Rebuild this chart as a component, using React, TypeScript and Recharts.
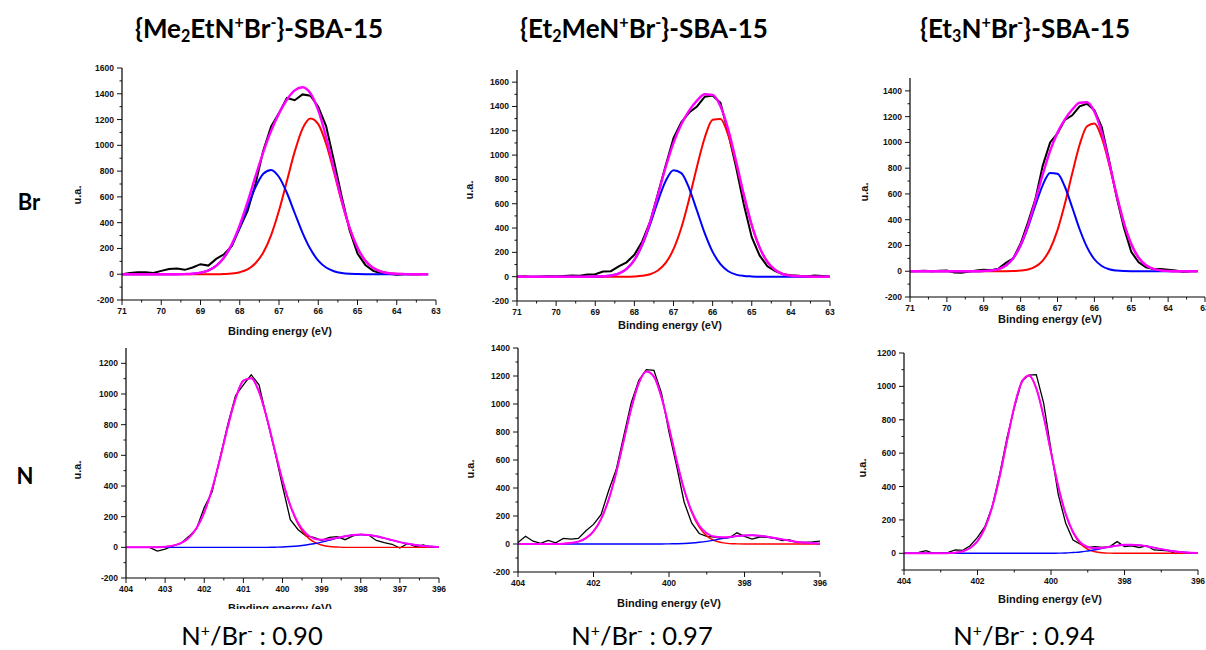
import React from "react";
import { LineChart, Line, XAxis, YAxis } from "recharts";

// binding energy grids (eV), high -> low like the original plots
const BE_BR = [71.0, 70.8, 70.6, 70.4, 70.2, 70.0, 69.8, 69.6, 69.4, 69.2, 69.0, 68.8, 68.6, 68.4, 68.2, 68.0, 67.8, 67.6, 67.4, 67.2, 67.0, 66.8, 66.6, 66.4, 66.2, 66.0, 65.8, 65.6, 65.4, 65.2, 65.0, 64.8, 64.6, 64.4, 64.2, 64.0, 63.8, 63.6, 63.4, 63.2, 63.0];
const BE_N = [404.0, 403.8, 403.6, 403.4, 403.2, 403.0, 402.8, 402.6, 402.4, 402.2, 402.0, 401.8, 401.6, 401.4, 401.2, 401.0, 400.8, 400.6, 400.4, 400.2, 400.0, 399.8, 399.6, 399.4, 399.2, 399.0, 398.8, 398.6, 398.4, 398.2, 398.0, 397.8, 397.6, 397.4, 397.2, 397.0, 396.8, 396.6, 396.4, 396.2, 396.0];

// {Me2EtN+Br-}-SBA-15, Br 3d
const RAW_BR1 = [0, 10, 15, 15, 10, 26, 41, 44, 34, 52, 78, 67, 119, 155, 220, 357, 492, 700, 960, 1147, 1250, 1367, 1350, 1395, 1385, 1300, 1150, 880, 600, 340, 160, 72, 26, 8, 3, -5, 0, 0, 0, null, null];
const RED_BR1 = [0, 0, 0, 0, 0, 0, 0, 0, 0, 0, 0, 0, 0, 2, 6, 16, 38, 85, 169, 304, 494, 722, 951, 1130, 1209, 1165, 1013, 793, 560, 356, 204, 105, 49, 21, 8, 3, 1, 0, 0, 0, null];
const BLUE_BR1 = [0, 0, 0, 0, 0, 0, 0, 0, 1, 4, 12, 29, 65, 129, 229, 365, 523, 674, 779, 809, 754, 632, 475, 321, 195, 106, 52, 23, 9, 3, 1, 0, 0, 0, 0, 0, 0, 0, 0, 0, null];
const FIT_BR1 = [0, 0, 0, 0, 0, 0, 0, 0, 1, 4, 12, 29, 65, 131, 235, 381, 561, 759, 948, 1113, 1248, 1354, 1426, 1451, 1404, 1271, 1065, 816, 569, 359, 205, 105, 49, 21, 8, 3, 1, 0, 0, 0, null];

// {Et2MeN+Br-}-SBA-15, Br 3d
const RAW_BR2 = [0, 2, -3, 0, 3, 2, 6, 10, 8, 18, 20, 42, 45, 85, 118, 180, 290, 450, 680, 915, 1140, 1270, 1350, 1400, 1480, 1490, 1430, 1180, 900, 590, 325, 175, 85, 45, 20, 12, 8, 2, 10, 5, 0];
const RED_BR2 = [0, 0, 0, 0, 0, 0, 0, 0, 0, 0, 0, 0, 0, 0, 0, 2, 7, 20, 51, 113, 226, 402, 639, 905, 1145, 1291, 1298, 1164, 932, 665, 423, 241, 122, 55, 22, 8, 3, 1, 0, 0, 0];
const BLUE_BR2 = [0, 0, 0, 0, 0, 0, 0, 0, 0, 0, 1, 3, 9, 26, 64, 137, 259, 428, 620, 787, 875, 852, 727, 543, 356, 204, 103, 45, 17, 6, 2, 0, 0, 0, 0, 0, 0, 0, 0, 0, 0];
const FIT_BR2 = [0, 0, 0, 0, 0, 0, 0, 0, 0, 0, 1, 3, 9, 26, 64, 139, 266, 448, 671, 900, 1101, 1254, 1366, 1448, 1501, 1495, 1401, 1209, 949, 671, 425, 241, 122, 55, 22, 8, 3, 1, 0, 0, 0];

// {Et3N+Br-}-SBA-15, Br 3d
const RAW_BR3 = [0, 2, 3, 0, 3, 5, -10, -12, -3, 5, 12, 8, 20, 65, 100, 215, 380, 560, 820, 1000, 1070, 1175, 1210, 1280, 1300, 1250, 1120, 860, 580, 340, 150, 70, 30, 18, 18, 12, 5, -3, 0, null, null];
const RED_BR3 = [0, 0, 0, 0, 0, 0, 0, 0, 0, 0, 0, 0, 0, 0, 1, 5, 14, 36, 83, 173, 319, 523, 760, 982, 1125, 1146, 1036, 831, 592, 375, 211, 105, 47, 18, 6, 2, 0, 0, 0, 0, null];
const BLUE_BR3 = [0, 0, 0, 0, 0, 0, 0, 0, 0, 0, 2, 6, 17, 45, 101, 199, 342, 512, 669, 762, 757, 656, 495, 326, 187, 93, 41, 15, 5, 1, 0, 0, 0, 0, 0, 0, 0, 0, 0, 0, null];
const FIT_BR3 = [0, 0, 0, 0, 0, 0, 0, 0, 0, 0, 2, 6, 17, 45, 102, 204, 356, 548, 752, 935, 1076, 1179, 1255, 1308, 1312, 1239, 1077, 846, 597, 376, 211, 105, 47, 18, 6, 2, 0, 0, 0, 0, null];

// N 1s
const RAW_N1 = [null, null, null, 0, -25, -12, 10, 25, 70, 120, 260, 360, 580, 800, 990, 1060, 1125, 1060, 840, 630, 400, 180, 115, 75, 65, 45, 65, 70, 50, 75, 85, 80, 45, 30, 20, -5, 25, 5, 15, 0, null];
const RED_N1 = [0, 0, 0, 0, 1, 4, 11, 27, 61, 124, 228, 380, 574, 784, 970, 1087, 1103, 1014, 844, 636, 435, 269, 150, 76, 35, 15, 5, 2, 0, 0, 0, 0, 0, 0, 0, 0, 0, 0, 0, 0, 0];
const BLUE_N1 = [0, 0, 0, 0, 0, 0, 0, 0, 0, 0, 0, 0, 0, 0, 0, 0, 0, 0, 0, 1, 2, 5, 9, 15, 23, 34, 47, 60, 72, 80, 83, 80, 72, 60, 47, 34, 23, 15, 9, 5, 2];
const FIT_N1 = [0, 0, 0, 0, 1, 4, 11, 27, 61, 124, 228, 380, 574, 784, 970, 1087, 1103, 1014, 844, 637, 437, 274, 159, 91, 58, 49, 52, 62, 72, 80, 83, 80, 72, 60, 47, 34, 23, 15, 9, 5, 2];

const RAW_N2 = [10, 55, 20, 5, 25, 8, 40, 35, 40, 95, 140, 210, 380, 530, 770, 1010, 1170, 1245, 1240, 1080, 800, 560, 300, 150, 75, 55, 50, 40, 45, 80, 55, 35, 50, 48, 40, 25, 30, 10, 12, 15, 20];
const RED_N2 = [0, 0, 0, 0, 0, 0, 2, 7, 17, 42, 91, 178, 316, 508, 737, 968, 1149, 1233, 1196, 1049, 832, 597, 387, 227, 120, 58, 25, 10, 3, 1, 0, 0, 0, 0, 0, 0, 0, 0, 0, 0, 0];
const BLUE_N2 = [0, 0, 0, 0, 0, 0, 0, 0, 0, 0, 0, 0, 0, 0, 0, 0, 0, 0, 0, 0, 1, 2, 4, 7, 12, 19, 28, 38, 47, 56, 61, 62, 59, 52, 43, 33, 23, 15, 10, 6, 3];
const FIT_N2 = [0, 0, 0, 0, 0, 0, 2, 7, 17, 42, 91, 178, 316, 508, 737, 968, 1149, 1233, 1196, 1049, 833, 599, 391, 234, 132, 77, 53, 48, 50, 57, 61, 62, 59, 52, 43, 33, 23, 15, 10, 6, 3];

const RAW_N3 = [null, null, 5, 16, 0, 3, 5, 20, 18, 45, 95, 160, 280, 470, 690, 870, 1030, 1068, 1070, 900, 620, 350, 180, 80, 55, 35, 40, 35, 40, 70, 40, 45, 35, 45, 20, 18, 15, -2, 10, null, null];
const RED_N3 = [0, 0, 0, 0, 0, 0, 1, 4, 12, 32, 73, 151, 278, 457, 670, 877, 1023, 1065, 988, 819, 605, 398, 234, 123, 57, 24, 9, 3, 1, 0, 0, 0, 0, 0, 0, 0, 0, 0, 0, 0, 0];
const BLUE_N3 = [0, 0, 0, 0, 0, 0, 0, 0, 0, 0, 0, 0, 0, 0, 0, 0, 0, 0, 0, 0, 0, 1, 2, 5, 8, 14, 21, 30, 38, 46, 51, 52, 49, 42, 34, 25, 17, 11, 6, 3, 2];
const FIT_N3 = [0, 0, 0, 0, 0, 0, 1, 4, 12, 32, 73, 151, 278, 457, 670, 877, 1023, 1065, 988, 819, 605, 399, 236, 128, 65, 38, 30, 33, 39, 46, 51, 52, 49, 42, 34, 25, 17, 11, 6, 3, 2];

// ticks
const BR_XTICKS = [71, 70.5, 70, 69.5, 69, 68.5, 68, 67.5, 67, 66.5, 66, 65.5, 65, 64.5, 64, 63.5, 63];
const N_XTICKS_HALF = [404, 403.5, 403, 402.5, 402, 401.5, 401, 400.5, 400, 399.5, 399, 398.5, 398, 397.5, 397, 396.5, 396];
const N_XTICKS = [404, 403, 402, 401, 400, 399, 398, 397, 396];
const YTICKS_1600 = [-200, -100, 0, 100, 200, 300, 400, 500, 600, 700, 800, 900, 1000, 1100, 1200, 1300, 1400, 1500, 1600];
const YTICKS_1400 = [-200, -100, 0, 100, 200, 300, 400, 500, 600, 700, 800, 900, 1000, 1100, 1200, 1300, 1400];
const YTICKS_1200 = [-200, -100, 0, 100, 200, 300, 400, 500, 600, 700, 800, 900, 1000, 1100, 1200];
const YTICKS_1200B = [-100, 0, 100, 200, 300, 400, 500, 600, 700, 800, 900, 1000, 1100, 1200];

const TICK_FONT = "'Liberation Sans', Arial, sans-serif";
const TEXT_FONT = "Lato, 'Open Sans', sans-serif";

const rows = (xs: number[], raw: any[], red: any[], blue: any[], fit: any[]) =>
  xs.map((x, i) => ({ x, raw: raw[i], red: red[i], blue: blue[i], fit: fit[i] }));

const makeYTick = (props: any) => {
  const { x, y, payload } = props;
  const v = payload.value;
  const major = v % 200 === 0;
  return (
    <g>
      <line x1={x - (major ? 5 : 2.5)} x2={x} y1={y} y2={y} stroke="#111" strokeWidth={1} />
      {major && (
        <text x={x - 8} y={y + 3} textAnchor="end" fontSize={8.5} fontWeight="bold" fontFamily={TICK_FONT} fill="#111">
          {v}
        </text>
      )}
    </g>
  );
};

const makeXTick = (step: number) => (props: any) => {
  const { x, y, payload } = props;
  const v = payload.value;
  const major = Math.abs(v % step) < 1e-6;
  return (
    <g>
      <line x1={x} x2={x} y1={y} y2={y + (major ? 5 : 2.5)} stroke="#111" strokeWidth={1} />
      {major && (
        <text x={x} y={y + 14} textAnchor="middle" fontSize={8.5} fontWeight="bold" fontFamily={TICK_FONT} fill="#111">
          {v}
        </text>
      )}
    </g>
  );
};

interface PanelProps {
  x0: number; x1: number; yTop: number; yBot: number;
  xDomain: [number, number]; yDomain: [number, number];
  xTicks: number[]; yTicks: number[]; majorStep: number;
  data: any[]; thin?: boolean;
}

function Panel({ x0, x1, yTop, yBot, xDomain, yDomain, xTicks, yTicks, majorStep, data, thin }: PanelProps) {
  const w = 40 + (x1 - x0) + 14;
  const h = 4 + (yBot - yTop) + 22;
  const lw = thin ? 1.3 : 2;
  return (
    <div style={{ position: "absolute", left: x0 - 40, top: yTop - 4 }}>
      <LineChart width={w} height={h} data={data} margin={{ top: 4, right: 14, bottom: 0, left: 0 }}>
        <XAxis
          type="number" dataKey="x" domain={xDomain} reversed allowDataOverflow
          ticks={xTicks} interval={0} tickSize={0} tickMargin={0} tickLine={false}
          tick={makeXTick(majorStep)} axisLine={{ stroke: "#000", strokeWidth: 1.2 }} height={22}
        />
        <YAxis
          type="number" domain={yDomain} allowDataOverflow
          ticks={yTicks} interval={0} tickSize={0} tickMargin={0} tickLine={false}
          tick={makeYTick} axisLine={{ stroke: "#000", strokeWidth: 1.2 }} width={40}
        />
        <Line type="linear" dataKey="raw" stroke="#000" strokeWidth={lw} dot={false} isAnimationActive={false} />
        <Line type="monotone" dataKey="red" stroke="#ff0000" strokeWidth={thin ? 1.4 : 2} dot={false} isAnimationActive={false} />
        <Line type="monotone" dataKey="blue" stroke="#0000ff" strokeWidth={thin ? 1.4 : 2} dot={false} isAnimationActive={false} />
        <Line type="monotone" dataKey="fit" stroke="#ff00ff" strokeWidth={thin ? 2 : 2.4} dot={false} isAnimationActive={false} />
      </LineChart>
    </div>
  );
}

const Sub = ({ c }: { c: string }) => <span style={{ fontSize: "0.62em", verticalAlign: "-0.25em" }}>{c}</span>;
const Sup = ({ c }: { c: string }) => <span style={{ fontSize: "0.62em", verticalAlign: "0.6em" }}>{c}</span>;

const Text = ({ x, y, rot, style, children }: any) => (
  <div
    style={{
      position: "absolute", left: x, top: y, whiteSpace: "nowrap", lineHeight: 1,
      transform: `translate(-50%, -50%)${rot ? " rotate(-90deg)" : ""}`,
      ...style,
    }}
  >
    {children}
  </div>
);

const AXIS_STYLE = { fontFamily: TICK_FONT, fontWeight: "bold", fontSize: 11, color: "#111" };
const TITLE_STYLE = { fontFamily: TEXT_FONT, fontWeight: "bold", fontSize: 26, color: "#000" };
const RATIO_STYLE = { fontFamily: TEXT_FONT, fontSize: 25.5, color: "#000" };

export default function App() {
  return (
    <div style={{ position: "absolute", left: 0, top: 0, width: 1206, height: 650, overflow: "hidden", background: "#fff" }}>
      <Text x={259} y={29} style={TITLE_STYLE}>{"{"}Me<Sub c="2" />EtN<Sup c="+" />Br<Sup c="-" />{"}"}-SBA-15</Text>
      <Text x={644} y={29} style={TITLE_STYLE}>{"{"}Et<Sub c="2" />MeN<Sup c="+" />Br<Sup c="-" />{"}"}-SBA-15</Text>
      <Text x={1025} y={29} style={TITLE_STYLE}>{"{"}Et<Sub c="3" />N<Sup c="+" />Br<Sup c="-" />{"}"}-SBA-15</Text>

      <Text x={29} y={202} style={{ ...TITLE_STYLE, fontSize: 22 }}>Br</Text>
      <Text x={25} y={476} style={{ ...TITLE_STYLE, fontSize: 22 }}>N</Text>

      <Panel x0={122} x1={436} yTop={68} yBot={300} xDomain={[63, 71]} yDomain={[-200, 1600]}
        xTicks={BR_XTICKS} yTicks={YTICKS_1600} majorStep={1} data={rows(BE_BR, RAW_BR1, RED_BR1, BLUE_BR1, FIT_BR1)} />
      <Panel x0={517} x1={830} yTop={70} yBot={301} xDomain={[63, 71]} yDomain={[-200, 1700]}
        xTicks={BR_XTICKS} yTicks={YTICKS_1600} majorStep={1} data={rows(BE_BR, RAW_BR2, RED_BR2, BLUE_BR2, FIT_BR2)} />
      <Panel x0={910} x1={1205} yTop={78} yBot={297} xDomain={[63, 71]} yDomain={[-200, 1500]}
        xTicks={BR_XTICKS} yTicks={YTICKS_1400} majorStep={1} data={rows(BE_BR, RAW_BR3, RED_BR3, BLUE_BR3, FIT_BR3)} />

      <Panel x0={126} x1={439} yTop={348} yBot={578} xDomain={[396, 404]} yDomain={[-200, 1300]}
        xTicks={N_XTICKS_HALF} yTicks={YTICKS_1200} majorStep={1} thin data={rows(BE_N, RAW_N1, RED_N1, BLUE_N1, FIT_N1)} />
      <Panel x0={518} x1={820} yTop={348} yBot={572} xDomain={[396, 404]} yDomain={[-200, 1400]}
        xTicks={N_XTICKS} yTicks={YTICKS_1400} majorStep={2} thin data={rows(BE_N, RAW_N2, RED_N2, BLUE_N2, FIT_N2)} />
      <Panel x0={904} x1={1198} yTop={353} yBot={570} xDomain={[396, 404]} yDomain={[-100, 1200]}
        xTicks={N_XTICKS} yTicks={YTICKS_1200B} majorStep={2} thin data={rows(BE_N, RAW_N3, RED_N3, BLUE_N3, FIT_N3)} />

      <Text x={77} y={195} rot style={AXIS_STYLE}>u.a.</Text>
      <Text x={469} y={190} rot style={AXIS_STYLE}>u.a.</Text>
      <Text x={864} y={192} rot style={AXIS_STYLE}>u.a.</Text>
      <Text x={77} y={470} rot style={AXIS_STYLE}>u.a.</Text>
      <Text x={470} y={469} rot style={AXIS_STYLE}>u.a.</Text>
      <Text x={862} y={468} rot style={AXIS_STYLE}>u.a.</Text>

      <Text x={280} y={331} style={AXIS_STYLE}>Binding energy (eV)</Text>
      <Text x={670} y={325} style={AXIS_STYLE}>Binding energy (eV)</Text>
      <Text x={1050} y={319} style={AXIS_STYLE}>Binding energy (eV)</Text>
      <div style={{ position: "absolute", left: 180, top: 596, width: 200, height: 13, overflow: "hidden" }}>
        <Text x={100} y={12} style={AXIS_STYLE}>Binding energy (eV)</Text>
      </div>
      <Text x={669} y={603} style={AXIS_STYLE}>Binding energy (eV)</Text>
      <Text x={1050} y={599} style={AXIS_STYLE}>Binding energy (eV)</Text>

      <Text x={252} y={635} style={RATIO_STYLE}>N<Sup c="+" />/Br<Sup c="-" /> : 0.90</Text>
      <Text x={642} y={635} style={RATIO_STYLE}>N<Sup c="+" />/Br<Sup c="-" /> : 0.97</Text>
      <Text x={1024} y={635} style={RATIO_STYLE}>N<Sup c="+" />/Br<Sup c="-" /> : 0.94</Text>
    </div>
  );
}
